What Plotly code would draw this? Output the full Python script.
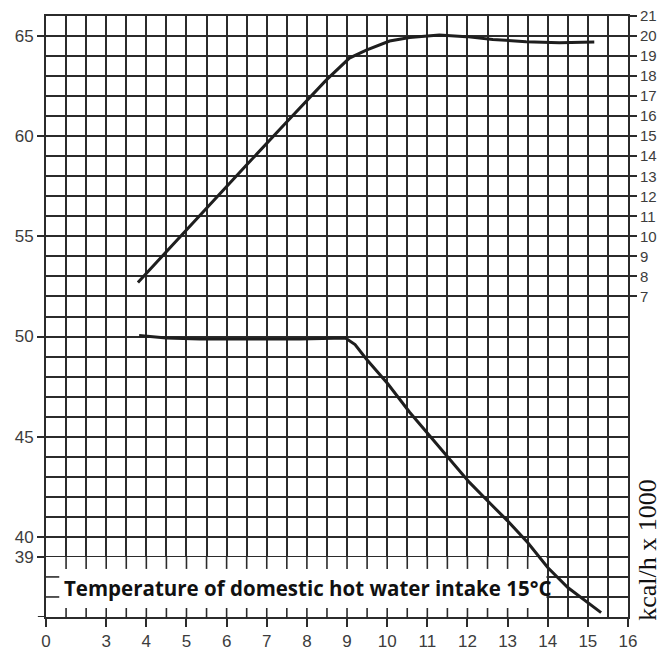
import plotly.graph_objects as go

# ---- data ----
x_tick_vals = [1.5, 3, 4, 5, 6, 7, 8, 9, 10, 11, 12, 13, 14, 15, 16]
x_tick_text = ["0", "3", "4", "5", "6", "7", "8", "9", "10", "11", "12", "13", "14", "15", "16"]
left_tick_vals = [39, 40, 45, 50, 55, 60, 65]
right_tick_vals = list(range(7, 22))

upper_x = [3.79, 4.41, 5.41, 6.49, 7.49, 8.48, 9.06, 9.48, 10.06, 10.56, 11.3, 11.97, 12.63, 13.46, 14.29, 15.16]
upper_kcal = [7.7, 9.05, 11.2, 13.55, 15.7, 17.8, 18.9, 19.3, 19.75, 19.93, 20.05, 19.97, 19.83, 19.72, 19.67, 19.7]

lower_x = [3.82, 4.5, 5.33, 6.57, 7.82, 8.96, 9.2, 9.48, 10.02, 10.56, 11.05, 11.55, 12.05, 12.5, 13.0, 13.5, 14.0, 14.5, 15.0, 15.33]
lower_temp = [50.05, 49.93, 49.88, 49.87, 49.88, 49.93, 49.6, 48.88, 47.63, 46.22, 45.05, 43.88, 42.72, 41.8, 40.8, 39.72, 38.47, 37.47, 36.72, 36.22]

note_text = "Temperature of domestic hot water intake 15°C"
right_title = "kcal/h x 1000"

# ---- styling ----
GRID = "#2b2b2b"
INK = "#1e1e1e"
LABEL = "#3c3c3c"
X_MIN, X_MAX = 1.5, 16
Y_MIN, Y_MAX = 36, 66
OFFSET = 45  # right axis = left axis - 45
BAND_TOP = 39
BAND_RIGHT = 14

fig = go.Figure()

fig.add_trace(go.Scatter(x=upper_x, y=upper_kcal, yaxis="y2", mode="lines",
                         line=dict(color=INK, width=3), showlegend=False, hoverinfo="skip"))
fig.add_trace(go.Scatter(x=lower_x, y=lower_temp, mode="lines",
                         line=dict(color=INK, width=3), showlegend=False, hoverinfo="skip"))

shapes = []
# white band hiding the grid behind the note
shapes.append(dict(type="rect", xref="x", yref="y", x0=X_MIN, x1=BAND_RIGHT - 0.03,
                   y0=Y_MIN, y1=BAND_TOP, fillcolor="white", line=dict(width=0), layer="between"))
# small stubs of the grid inside the band
half = 0.5
k = X_MIN + half
while k < BAND_RIGHT - 1e-9:
    shapes.append(dict(type="line", xref="x", yref="y", x0=k, x1=k, y0=BAND_TOP, y1=BAND_TOP - 0.6,
                       line=dict(color=GRID, width=1.6), layer="between"))
    shapes.append(dict(type="line", xref="x", yref="y", x0=k, x1=k, y0=Y_MIN, y1=Y_MIN + 0.45,
                       line=dict(color=GRID, width=1.6), layer="between"))
    k += half
for yy in range(Y_MIN + 1, BAND_TOP):
    shapes.append(dict(type="line", xref="x", yref="y", x0=X_MIN, x1=X_MIN + 0.33, y0=yy, y1=yy,
                       line=dict(color=GRID, width=1.6), layer="between"))
# the bottom axis line pokes a little past the left frame
shapes.append(dict(type="line", xref="paper", yref="y", x0=-0.014, x1=0, y0=Y_MIN, y1=Y_MIN,
                   line=dict(color=GRID, width=2), layer="above"))

fig.update_layout(
    width=669, height=650,
    margin=dict(l=46, r=41, t=16, b=33, autoexpand=False),
    paper_bgcolor="white", plot_bgcolor="white",
    shapes=shapes,
    xaxis=dict(
        range=[X_MIN, X_MAX], tickmode="array", tickvals=x_tick_vals, ticktext=x_tick_text,
        showgrid=False, zeroline=False,
        showline=True, linecolor=GRID, linewidth=2, mirror=True,
        ticks="outside", ticklen=8, tickwidth=1.6, tickcolor=GRID,
        tickfont=dict(family="Liberation Sans, Arial, sans-serif", size=17, color=LABEL),
        minor=dict(tickmode="linear", tick0=X_MIN, dtick=0.5, showgrid=True,
                   gridcolor=GRID, gridwidth=1.6, ticks=""),
    ),
    yaxis=dict(
        range=[Y_MIN, Y_MAX], tickmode="array", tickvals=left_tick_vals,
        showgrid=False, zeroline=False,
        showline=True, linecolor=GRID, linewidth=2, mirror=True,
        ticks="outside", ticklen=7, tickwidth=1.6, tickcolor=GRID,
        tickfont=dict(family="Liberation Sans, Arial, sans-serif", size=17, color=LABEL),
        minor=dict(tickmode="linear", tick0=Y_MIN, dtick=1, showgrid=True,
                   gridcolor=GRID, gridwidth=1.6, ticks=""),
    ),
    yaxis2=dict(
        overlaying="y", side="right",
        range=[Y_MIN - OFFSET, Y_MAX - OFFSET], tickmode="array", tickvals=right_tick_vals,
        showgrid=False, zeroline=False, showline=False,
        ticks="outside", ticklen=8, tickwidth=1.6, tickcolor=GRID,
        tickfont=dict(family="Liberation Sans, Arial, sans-serif", size=15, color=LABEL),
    ),
    annotations=[
        dict(text=note_text, xref="x", yref="y", x=1.9, y=37.45, xanchor="left", yanchor="middle",
             showarrow=False,
             font=dict(family="Open Sans, DejaVu Sans, sans-serif", size=20.5, color="#111111", weight="bold")),
        dict(text=right_title, xref="paper", yref="paper", x=1.034, y=0.1115, textangle=-90,
             xanchor="center", yanchor="middle", showarrow=False,
             font=dict(family="Liberation Serif, Times New Roman, serif", size=26, color="#111111")),
    ],
)

# remove the default 8px page margin so the 669x650 figure fills the window exactly
page_fix = ("document.body.style.margin='0';document.body.style.padding='0';"
            "document.documentElement.style.overflow='hidden';")
fig.write_html("out.html", post_script=page_fix, config={"displayModeBar": False})
